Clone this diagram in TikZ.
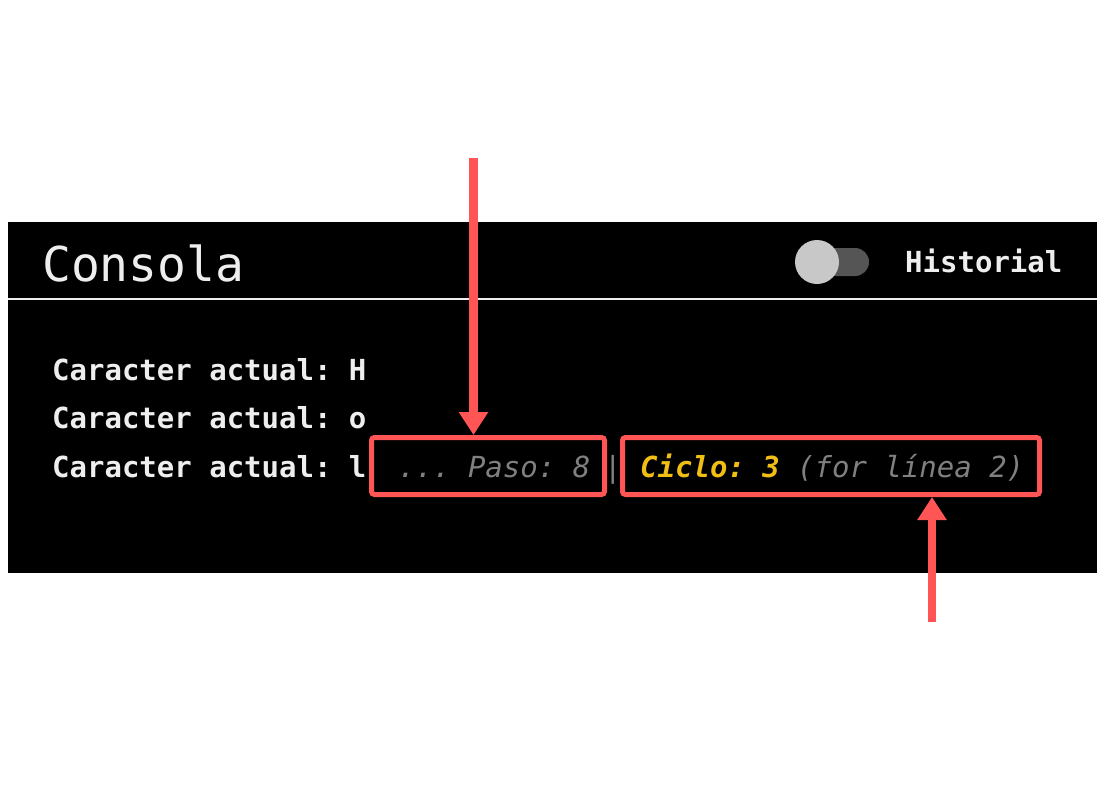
\documentclass[tikz,border=0pt]{standalone}
\usepackage{fontspec}
\setmonofont{DejaVu Sans Mono}
\usetikzlibrary{arrows.meta}
\definecolor{hlred}{RGB}{255,85,85}
\definecolor{dimgrey}{RGB}{128,128,128}
\definecolor{cycyel}{RGB}{240,190,20}
\definecolor{offwhite}{RGB}{238,238,238}
\tikzset{
  mono/.style={inner sep=0pt, anchor=base west, text=offwhite, font=\ttfamily\bfseries\fontsize{29}{32}\selectfont},
  dimtxt/.style={inner sep=0pt, anchor=base west, text=dimgrey, font=\ttfamily\itshape\fontsize{29}{32}\selectfont},
  hlbox/.style={draw=hlred, line width=5pt, rounded corners=3pt, minimum height=57pt, inner sep=0pt},
  callout/.style={draw=hlred, line width=8.5pt, -{Triangle[length=23pt,width=28pt]}}
}
\begin{document}
\begin{tikzpicture}[x=1pt,y=-1pt]
\useasboundingbox[fill=white] (0,0) rectangle (1115,784);
% panel
\fill[black] (8,222) rectangle (1097,573);
\draw[line width=2pt, draw=offwhite] (8,299) -- (1097,299);
\node[inner sep=0pt, anchor=base west, text=offwhite, font=\ttfamily\fontsize{48}{52}\selectfont] (title) at (42,281) {Consola};
% toggle
\fill[fill={rgb,255:red,85;green,85;blue,85}, rounded corners=14pt] (805,248) rectangle (869,276);
\fill[fill={rgb,255:red,200;green,200;blue,200}] (817,262) circle (22);
\node[mono] (hist) at (905,272) {Historial};
% console lines
\node[mono] (l1) at (52,380) {Caracter actual: H};
\node[mono] (l2) at (52,428) {Caracter actual: o};
\node[mono] (l3) at (52,477) {Caracter actual: l};
\node[dimtxt] (paso) at (398,477) {... Paso: 8};
\node[dimtxt, font=\ttfamily\fontsize{29}{32}\selectfont] (sep) at (604,477) {|};
\node[dimtxt, text=cycyel, font=\ttfamily\bfseries\itshape\fontsize{29}{32}\selectfont] (ciclo) at (640,477) {Ciclo: 3};
\node[dimtxt] (forl) at (797,477) {(for línea 2)};
% highlight boxes
\node[hlbox, minimum width=233pt] (box1) at (488,466) {};
\node[hlbox, minimum width=417pt] (box2) at (831,466) {};
% callout arrows
\coordinate (a1) at (473.5,158);
\coordinate (a2) at (932,622);
\draw[callout] (a1) -- (a1 |- box1.north);
\draw[callout] (a2) -- (a2 |- box2.south);
\end{tikzpicture}
\end{document}
